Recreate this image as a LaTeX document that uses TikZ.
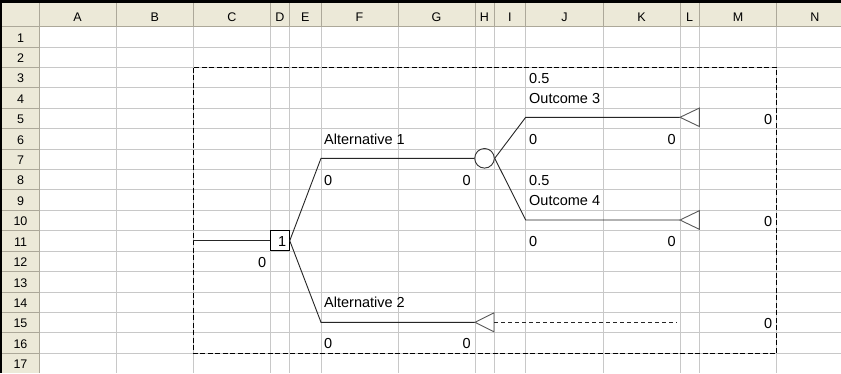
\documentclass[tikz,border=0pt]{standalone}
\usepackage{fontspec}
\setmainfont{Liberation Sans}
\definecolor{gridc}{RGB}{200,200,200}
\definecolor{hdrbg}{RGB}{236,233,216}
\definecolor{hdrline}{RGB}{172,168,153}
\begin{document}
\begin{tikzpicture}[x=1pt,y=-1pt,
  cell/.style={font=\fontsize{14.5}{17}\selectfont, inner sep=0pt, text=black},
  hdr/.style={font=\fontsize{12.5}{15}\selectfont, inner sep=0pt, text=black},
  tree/.style={line width=0.9pt, draw=black!85},
  term/.style={line width=0.9pt, draw=black!65},
  gridline/.style={draw=gridc, line width=1pt},
  hline/.style={draw=hdrline, line width=1pt},
  frame/.style={draw=black, line width=1pt, dash pattern=on 5pt off 2.5pt},
  stub/.style={draw=black!85, line width=0.8pt, dash pattern=on 4pt off 3pt}
]
\useasboundingbox (0,0) rectangle (841,373);
\fill[white] (0,0) rectangle (841,373);

% ---- grid ----
\foreach \x in {116.3,193.3,270.3,289.3,321,398,475,494,525.7,603,680,699.3,776.7}
  \draw[gridline] (\x,26.7) -- (\x,373);
\foreach \k in {1,...,16}
  \draw[gridline] (39,{26.7+20.41*\k}) -- (841,{26.7+20.41*\k});

% ---- headers ----
\fill[hdrbg] (0,0) rectangle (841,26.7);
\fill[hdrbg] (0,0) rectangle (39,373);
\foreach \x in {116.3,193.3,270.3,289.3,321,398,475,494,525.7,603,680,699.3,776.7}
  \draw[hline] (\x,3) -- (\x,26.7);
\foreach \k in {1,...,16}
  \draw[hline] (2,{26.7+20.41*\k}) -- (39,{26.7+20.41*\k});
\draw[hline] (0,26.7) -- (841,26.7);
\draw[hline] (39,3) -- (39,373);
\fill[black] (0,0) rectangle (841,3);
\fill[black] (0,0) rectangle (2,373);

\foreach \c/\l in {77.6/A,154.8/B,231.8/C,279.8/D,305.2/E,359.5/F,436.5/G,484.5/H,509.9/I,564.4/J,641.5/K,689.7/L,738/M,814.9/N}
  \node[hdr, anchor=base] at (\c,21.7) {\l};
\foreach \k in {1,...,17}
  \node[hdr, anchor=base] at (20.5,{26.7+20.41*\k-5}) {\k};

% ---- frame ----
\draw[frame] (193.3,67.5) rectangle (776.7,353.3);

% ---- tree nodes ----
\node[draw=black, line width=0.9pt, minimum width=18.6pt, minimum height=20pt, inner sep=0pt] (dec) at (280,240.7) {};
\node[draw=black!80, line width=0.9pt, circle, minimum size=19.6pt, inner sep=0pt] (ch) at (484.5,158.3) {};

\coordinate (in) at (193.3,240.7);
\coordinate (a1) at (321,158.3);
\coordinate (a2) at (321,322.3);
\coordinate (ta2) at (475,322.3);
\coordinate (o3) at (525.7,117.3);
\coordinate (t3) at (680,117.3);
\coordinate (o4) at (525.7,220);
\coordinate (t4) at (680,220);
\coordinate (se) at (677,322.3);

\draw[tree] (in) -- (dec.west);
\draw[tree] (dec.east) -- (a1) -- (ch.west);
\draw[tree] (dec.east) -- (a2) -- (ta2);
\draw[tree] (ch.east) -- (o3) -- (t3);
\draw[tree] (ch.east) -- (o4) -- (t4);

% terminals
\draw[term, fill=white] (t3) -- ++(19.3,-9.2) -- ++(0,18.4) -- cycle;
\draw[term, fill=white] (t4) -- ++(19.3,-9.3) -- ++(0,18.6) -- cycle;
\draw[term, fill=white] (ta2) -- ++(19,-9.5) coordinate (tb) -- ++(0,19) -- cycle;
\coordinate (tbm) at (494,322.3);
\draw[stub] (tbm) -- (se);

% ---- cell texts ----
\node[cell, anchor=base west] at (529,83.4) {0.5};
\node[cell, anchor=base west] at (529,103.8) {Outcome 3};
\node[cell, anchor=base east] at (772.5,124.2) {0};
\node[cell, anchor=base west] at (324,144.7) {Alternative 1};
\node[cell, anchor=base west] at (529,144.7) {0};
\node[cell, anchor=base east] at (676,144.7) {0};
\node[cell, anchor=base west] at (324,185.5) {0};
\node[cell, anchor=base east] at (471,185.5) {0};
\node[cell, anchor=base west] at (529,185.5) {0.5};
\node[cell, anchor=base west] at (529,205.9) {Outcome 4};
\node[cell, anchor=base east] at (772.5,226.3) {0};
\node[cell, anchor=base east] at (286.5,246.7) {1};
\node[cell, anchor=base west] at (529,246.7) {0};
\node[cell, anchor=base east] at (676,246.7) {0};
\node[cell, anchor=base east] at (266.5,267.1) {0};
\node[cell, anchor=base west] at (324,307.9) {Alternative 2};
\node[cell, anchor=base east] at (772.5,328.4) {0};
\node[cell, anchor=base west] at (324,348.8) {0};
\node[cell, anchor=base east] at (471,348.8) {0};
\end{tikzpicture}
\end{document}
